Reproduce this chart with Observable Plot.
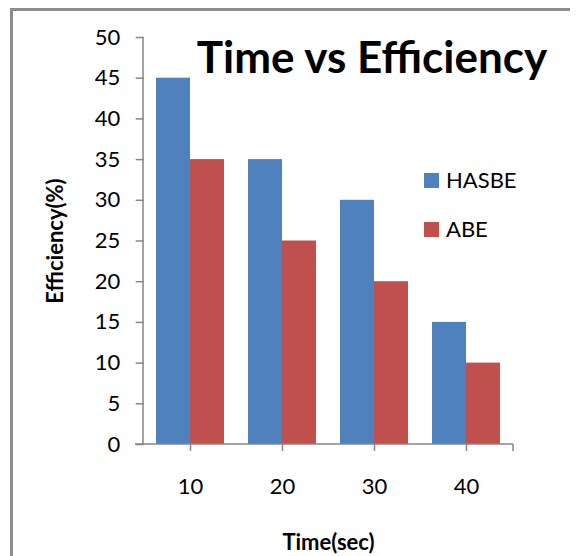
<!DOCTYPE html>
<html><head><meta charset="utf-8">
<script src="https://cdn.jsdelivr.net/npm/d3@7"></script>
<script src="https://cdn.jsdelivr.net/npm/@observablehq/plot@0.6"></script>
<style>
html,body{margin:0;padding:0;background:#fff;overflow:hidden;}
#wrap{position:relative;width:576px;height:556px;overflow:hidden;font-family:Lato,sans-serif;}
.edge{position:absolute;background:#8c8c8c;}
#edgeL{left:10px;top:8px;width:3px;height:548px;}
#edgeT{left:10px;top:8px;width:560px;height:3px;}
#wrap svg{position:absolute;left:0;top:0;}
</style></head><body><div id="wrap"><div class="edge" id="edgeL"></div><div class="edge" id="edgeT"></div></div>
<script>
const times = [10, 20, 30, 40];
const series = ["HASBE", "ABE"];
const hasbe = [45, 35, 30, 15];
const abe = [35, 25, 20, 10];
const colors = ["#4F81BD", "#C0504D"];
const yTicks = [0, 5, 10, 15, 20, 25, 30, 35, 40, 45, 50];
const title = "Time vs Efficiency";
const xLabel = "Time(sec)";
const yLabel = "Efficiency(%)";

const rows = times.flatMap((t, i) => [
  {time: t, series: series[0], value: hasbe[i]},
  {time: t, series: series[1], value: abe[i]}
]);

const W = 576, H = 556, mL = 143, mR = 63, mT = 37, mB = 112;
const fxOpts = {domain: times, paddingInner: 0.265, paddingOuter: 0.133};
// the y axis is anchored to the first facet; shift it back to the frame's left edge
const fxProbe = Plot.scale({x: {type: "band", ...fxOpts, range: [mL, W - mR]}});
const facetShift = fxProbe.apply(times[0]) - mL;

const plot = Plot.plot({
  width: W, height: H,
  marginLeft: mL, marginRight: mR, marginTop: mT, marginBottom: mB,
  style: {fontFamily: "Lato, sans-serif", fontSize: "22px", background: "transparent", overflow: "visible", color: "black"},
  fx: fxOpts,
  x: {domain: series, padding: 0, axis: null},
  y: {domain: [0, 50]},
  color: {domain: series, range: colors},
  marks: [
    Plot.barY(rows, {fx: "time", x: "series", y: "value", fill: "series"}),
    Plot.axisY({ticks: yTicks, tickSize: 8, tickPadding: 16, stroke: "#868686", fill: "black", strokeWidth: 1.5,
      fontSize: 22, label: yLabel, labelAnchor: "center", labelArrow: "none", labelOffset: 97 + facetShift, dx: -facetShift}),
    Plot.axisFx({anchor: "bottom", tickSize: 7, tickPadding: 27, stroke: "#868686", fill: "black", strokeWidth: 1.5,
      fontSize: 22, label: xLabel, labelAnchor: "center", labelArrow: "none", labelOffset: 105})
  ]
});

document.getElementById("wrap").appendChild(plot);

const svg = d3.select(plot);
svg.selectAll('g[aria-label="y-axis label"], g[aria-label="fx-axis label"]').attr("font-weight", "bold");

const y = plot.scale("y"), fx = plot.scale("fx"), color = plot.scale("color");
const [x0, x1] = fx.range;
const yb = y.apply(0), yt = y.apply(50);
const g = svg.append("g").attr("stroke", "#868686").attr("stroke-width", 1.5);
g.append("line").attr("x1", x0).attr("x2", x0).attr("y1", yt).attr("y2", yb);
g.append("line").attr("x1", x0 - 8).attr("x2", x1).attr("y1", yb).attr("y2", yb);
g.append("line").attr("x1", x1).attr("x2", x1).attr("y1", yb).attr("y2", yb + 7);

svg.append("text").attr("x", 372).attr("y", 73).attr("text-anchor", "middle")
  .attr("font-family", "Lato, sans-serif").attr("font-weight", "bold").attr("font-size", 44).attr("fill", "black")
  .text(title);

const lg = svg.append("g").attr("font-family", "Lato, sans-serif").attr("font-size", 22).attr("text-anchor", "start");
series.forEach((s, i) => {
  lg.append("rect").attr("x", 424).attr("y", 173 + 49 * i).attr("width", 15).attr("height", 15).attr("fill", color.apply(s));
  lg.append("text").attr("x", 446).attr("y", 188 + 49 * i).attr("fill", "black").text(s);
});
</script></body></html>
